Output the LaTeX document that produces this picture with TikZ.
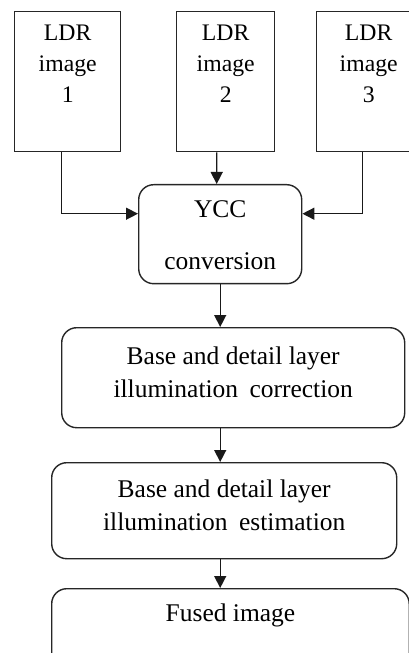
\documentclass[tikz,border=0pt]{standalone}
\usepackage{fontspec}
\setmainfont{Liberation Serif}
\usetikzlibrary{arrows.meta}

\tikzset{
  ldr/.style={draw=black!85, line width=0.8pt, anchor=north west, align=center, inner sep=0pt,
    minimum height=2.8cm, text height=1.82cm, text depth=0.98cm,
    font=\fontsize{13.5}{17.6}\selectfont},
  stage/.style={draw=black!85, line width=0.8pt, rounded corners=0.3cm, anchor=north west,
    align=center, inner sep=0pt, font=\fontsize{14.5}{19}\selectfont},
  flow/.style={draw=black!90, line width=0.8pt, -{Triangle[length=0.24cm,width=0.24cm]}}
}

\begin{document}
\begin{tikzpicture}
			%%%%% FRAME %%%%%
			\useasboundingbox (0, 0) rectangle (8.18, -13.06);
			\clip (0, 0) rectangle (8.18, -13.06);
			
			%%%%% INPUTS %%%%%
			\node[ldr, minimum width=2.12cm] (ldr1) at (0.28, -0.22) {LDR\\image\\1};
			\node[ldr, minimum width=1.96cm] (ldr2) at (3.52, -0.22) {LDR\\image\\2};
			\node[ldr, minimum width=2.08cm] (ldr3) at (6.32, -0.22) {LDR\\image\\3};
			
			%%%%% STAGES %%%%%
			\node[stage, minimum width=3.26cm, text height=1.70cm, text depth=0.28cm] (ycc) at (2.76, -3.68) {YCC\\[0.38cm]conversion};
			\node[stage, minimum width=6.86cm, text height=1.40cm, text depth=0.60cm] (corr) at (1.22, -6.54) {Base and detail layer\\illumination\hspace{0.45em}correction};
			\node[stage, minimum width=6.90cm, text height=1.36cm, text depth=0.56cm] (est) at (1.02, -9.24) {Base and detail layer\\illumination\hspace{0.45em}estimation};
			\node[stage, minimum width=7.15cm, text height=0.66cm, text depth=1.20cm] (fused) at (1.02, -11.76) {Fused image};
			
			%%%%% ARROWS %%%%%
			\draw[flow] ([xshift=-0.12cm]ldr1.south) |- ([yshift=0.41cm]ycc.west);
			\draw[flow] ([xshift=-0.18cm]ldr2.south) -- ([xshift=-0.07cm]ycc.north);
			\draw[flow] ([xshift=-0.13cm]ldr3.south) |- ([yshift=0.41cm]ycc.east);
			\draw[flow] (ycc.south) -- (ycc.south |- corr.north);
			\draw[flow] (ycc.south |- corr.south) -- (ycc.south |- est.north);
			\draw[flow] (ycc.south |- est.south) -- (ycc.south |- fused.north);
			
		\end{tikzpicture}
\end{document}
